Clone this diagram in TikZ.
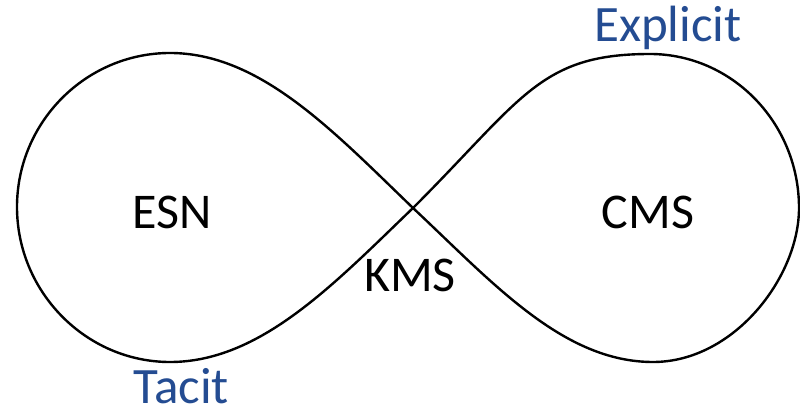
\documentclass[tikz,border=0pt]{standalone}
\usepackage{fontspec}
\setmainfont{Carlito}
\definecolor{labelblue}{RGB}{36,76,146}
\begin{document}
\begin{tikzpicture}[x=1pt,y=-1pt,
  loop/.style={line width=2.4pt,draw=black,line join=round},
  region/.style={font=\fontsize{50}{50}\selectfont,text=black,inner sep=0pt,anchor=base},
  mode/.style={font=\fontsize{51}{51}\selectfont,text=labelblue,inner sep=0pt,anchor=base}]
\useasboundingbox (0,0) rectangle (800,411);
% key points of the figure-eight
\coordinate (X) at (413,208);
\coordinate (LT) at (170,53);
\coordinate (LL) at (17,207);
\coordinate (LB) at (170,362);
\coordinate (RT) at (650,54);
\coordinate (RR) at (799,208);
\coordinate (RB) at (653,362);
% left loop
\draw[loop] (X) .. controls (333,131) and (260,53) .. (LT)
  .. controls (86,53) and (17,122) .. (LL)
  .. controls (17,292) and (86,362) .. (LB)
  .. controls (260,362) and (333,285) .. (X);
% right loop
\draw[loop] (X) .. controls (523,98) and (540,54) .. (RT)
  .. controls (732,54) and (799,123) .. (RR)
  .. controls (799,277) and (734,362) .. (RB)
  .. controls (563,362) and (493,283) .. (X);
% labels
\node[region] (esn) at (172,229) {ESN};
\node[region] (cms) at (648,229) {CMS};
\node[region] (kms) at (410,292) {KMS};
\node[mode] (explicit) at (668,42) {Explicit};
\node[mode] (tacit) at (181,403) {Tacit};
\end{tikzpicture}
\end{document}
